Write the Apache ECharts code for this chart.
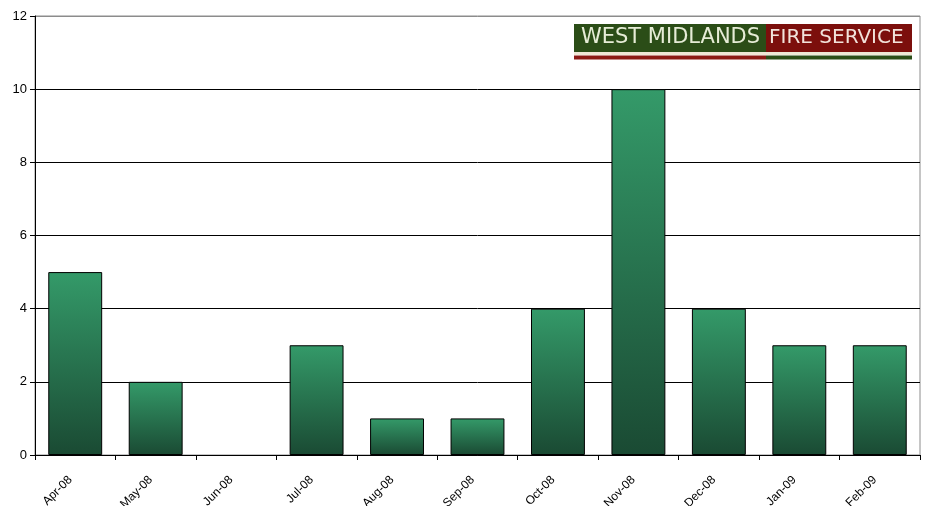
<!DOCTYPE html>
<html><head><meta charset="utf-8">
<script src="https://cdn.jsdelivr.net/npm/echarts@6/dist/echarts.min.js"></script>
<style>html,body{margin:0;padding:0;background:#fff}#c{width:928px;height:506px}</style>
</head><body><div id="c"></div>
<script>
const categories = ['Apr-08','May-08','Jun-08','Jul-08','Aug-08','Sep-08','Oct-08','Nov-08','Dec-08','Jan-09','Feb-09'];
const values = [5,2,0,3,1,1,4,10,4,3,3];
const yTicks = {min:0, max:12, interval:2};

const chart = echarts.init(document.getElementById('c'));
chart.setOption({
  animation:false,
  grid:{left:35,right:8,top:16,bottom:51,show:true,borderColor:'#8c8c8c',borderWidth:1,outerBoundsMode:'none',containLabel:false},
  xAxis:{type:'category',data:categories,
    axisLine:{lineStyle:{color:'#000',width:1}},
    axisTick:{show:true,length:5,lineStyle:{color:'#000'}},
    axisLabel:{rotate:45,fontFamily:'Liberation Sans',fontSize:12,color:'#000',margin:18,padding:[0,7,0,0],interval:0}},
  yAxis:{type:'value',min:yTicks.min,max:yTicks.max,interval:yTicks.interval,
    axisLine:{show:true,lineStyle:{color:'#000',width:1}},
    axisTick:{show:true,length:5,lineStyle:{color:'#000'}},
    splitLine:{lineStyle:{color:['#000','#000','#000','#000','#000','#000','#8c8c8c'],width:1}},
    axisLabel:{fontFamily:'Liberation Sans',fontSize:13,color:'#000',margin:8}},
  series:[{type:'bar',barCategoryGap:'33%',
    data:values.map(v => v === 0 ? {value:v,itemStyle:{borderWidth:0}} : v),
    itemStyle:{borderColor:'#000',borderWidth:1,
      color:new echarts.graphic.LinearGradient(0,0,0,1,[{offset:0,color:'#349a69'},{offset:1,color:'#1a4a33'}])}}],
  graphic:[
    {type:'rect',shape:{x:574,y:24,width:192,height:28},style:{fill:'#2b4d17'}},
    {type:'rect',shape:{x:766,y:24,width:146,height:28},style:{fill:'#7c0f0c'}},
    {type:'rect',shape:{x:574,y:52,width:338,height:3},style:{fill:'#efe8d6'}},
    {type:'rect',shape:{x:574,y:55.5,width:192,height:4},style:{fill:'#8b1a14'}},
    {type:'rect',shape:{x:766,y:55.5,width:146,height:4},style:{fill:'#2b4d17'}},
    {type:'text',x:581,y:38,style:{text:'WEST MIDLANDS',fill:'#e6ecd6',font:'21px "DejaVu Sans"',verticalAlign:'middle'}},
    {type:'text',x:769,y:38,style:{text:'FIRE SERVICE',fill:'#f2e2da',font:'20px "DejaVu Sans"',verticalAlign:'middle'}}
  ]
});
</script></body></html>
